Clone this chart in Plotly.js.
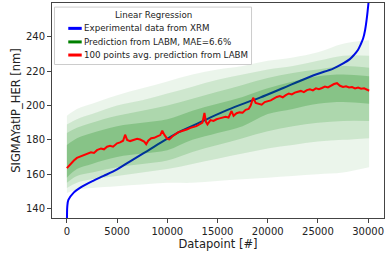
<!DOCTYPE html>
<html>
<head>
<meta charset="utf-8">
<script src="https://cdn.plot.ly/plotly-3.0.1.min.js"></script>
<style>html,body{margin:0;padding:0;background:#fff;}#chart{width:385px;height:253px;}</style>
</head>
<body>
<div id="chart"></div>
<script>
// Experimental data from XRM (sorted)
const blueX = [0, 15, 40, 150, 680, 1340, 2660, 3660, 5000, 6300, 8000, 9800, 11500, 13000, 14260, 16000, 18000, 19230, 21550, 23200, 24870, 26520, 27520, 28180, 28600, 29000, 29250, 29500, 29700, 29850, 29950, 30050, 30100];
const blueY = [120, 136, 141, 145, 149.3, 152.2, 156.3, 159, 162.8, 167.5, 173.5, 180, 185.5, 189.5, 193, 197.5, 202, 204.6, 210.2, 214.3, 218.2, 221.5, 224.5, 227, 229.5, 232.5, 235.5, 239, 244, 250, 255, 261, 268];

// 100 points avg. prediction from LABM
const redX = [0,150,400,700,1000,1300,1700,2000,2400,2700,3000,3400,3700,4000,4300,4600,5000,5300,5600,5800,6000,6300,6700,7000,7300,7700,7900,8100,8400,8700,9000,9300,9500,9700,10000,10200,10500,10800,11100,11400,11700,12000,12300,12600,12900,13200,13500,13700,13850,14000,14300,14600,14900,15200,15500,15800,16100,16400,16600,16900,17200,17500,17800,18100,18300,18550,18800,19100,19400,19700,20000,20300,20600,20900,21200,21500,21800,22100,22400,22700,23000,23300,23600,23900,24200,24500,24800,25100,25400,25700,26000,26300,26600,26900,27200,27500,27800,28100,28400,28700,29000,29300,29600,29900,30100];
const redY = [163.5,164.5,166,168,169.5,170.2,171,171.8,172.8,172.4,174,175,174.5,176,176.5,176,178,178.5,179.5,183,180,179.3,180,180.6,180.2,179,177.5,179.5,181,181.2,182,182.8,185.3,183,180.6,180.3,182,183.2,184.5,185,185.5,186.2,187,187.5,188,189,190,195.7,190.5,189,191.5,191,192,192.5,193,193.5,193,196.8,194,195.5,196,195.8,197.5,198,200,204.5,201.5,201,200.5,202,202.5,203,204,205,205.5,204.8,206,207,206.5,207.5,208,208.5,207.8,209,209.5,208.8,210,209.5,210.2,211,210.5,211.5,212.5,213,211.5,210.8,211.2,210.5,210.8,210,210.5,209.8,210,209.2,208.6];

// Prediction from LABM: spread of the individual predictions, from the faint outer
// envelope (L1) to the dense core (L4)
const bandX = [0, 1000, 2500, 5000, 7500, 10000, 12500, 15000, 17500, 20000, 22500, 25000, 27500, 30100];
const l1Hi = [194, 198, 201, 206, 210, 214, 218, 221, 223, 226, 228, 231, 236, 238];
const l1Lo = [149, 151, 152, 153, 154, 155, 155, 156, 157, 158, 159, 160, 161, 164];
const l2Hi = [189, 192, 195, 200, 203, 207, 211, 215, 218, 221, 223, 226, 229, 229];
const l2Lo = [152, 155, 157, 159, 161, 163, 166, 169, 172, 175, 177, 179, 180, 181];
const l3Hi = [184, 187, 190, 194, 197, 200, 204, 208, 212, 216, 219, 221, 223, 222];
const l3Lo = [155, 159, 161, 164, 166, 168, 173, 177, 181, 185, 188, 190, 191, 191];
const l4Hi = [177, 181, 184, 188, 190, 192, 197, 201, 205, 210, 214, 217, 218, 217];
const l4Lo = [158, 163, 166, 170, 172, 174, 180, 184, 188, 195, 198, 201, 202, 201];

const legendTitle = 'Linear Regression';
const legendLabels = ['Experimental data from XRM', 'Prediction from LABM, MAE=6.6%', '100 points avg. prediction from LABM'];
const legendColors = ['#0000ff', '#008000', '#ff0000'];
const xTicks = [0, 5000, 10000, 15000, 20000, 25000, 30000];
const yTicks = [140, 160, 180, 200, 220, 240];

function band(lo, hi, color) {
  return [
    {x: bandX, y: lo, type: 'scatter', mode: 'lines', line: {width: 0, shape: 'spline'}, showlegend: false, hoverinfo: 'skip'},
    {x: bandX, y: hi, type: 'scatter', mode: 'lines', line: {width: 0, shape: 'spline'}, fill: 'tonexty', fillcolor: color, showlegend: false, hoverinfo: 'skip'}
  ];
}

const traces = [
  {x: blueX, y: blueY, type: 'scatter', mode: 'lines', name: legendLabels[0], line: {color: legendColors[0], width: 2, shape: 'spline'}},
  ...band(l1Lo, l1Hi, 'rgba(0,128,0,0.08)'),
  ...band(l2Lo, l2Hi, 'rgba(0,128,0,0.12)'),
  ...band(l3Lo, l3Hi, 'rgba(0,128,0,0.16)'),
  ...band(l4Lo, l4Hi, 'rgba(0,128,0,0.22)'),
  {x: redX, y: redY, type: 'scatter', mode: 'lines', name: legendLabels[2], line: {color: legendColors[2], width: 2}}
];

// legend drawn in the upper-left corner of the axes (paper coordinates)
const lgFont = {family: 'DejaVu Sans', size: 8.7, color: '#222'};
const rowY = [0.882, 0.819, 0.758];
const shapes = [
  {type: 'rect', xref: 'paper', yref: 'paper', x0: 0.0075, x1: 0.601, y0: 0.714, y1: 0.981,
   fillcolor: 'rgba(255,255,255,0.8)', line: {color: '#cccccc', width: 1}, layer: 'above'}
].concat(legendLabels.map((t, i) => ({
  type: 'line', xref: 'paper', yref: 'paper', x0: 0.049, x1: 0.0895, y0: rowY[i], y1: rowY[i],
  line: {color: legendColors[i], width: 3}, layer: 'above'
})));
const annotations = [
  {xref: 'paper', yref: 'paper', x: 0.305, y: 0.944, text: legendTitle, showarrow: false, xanchor: 'center', yanchor: 'middle', font: lgFont}
].concat(legendLabels.map((t, i) => ({
  xref: 'paper', yref: 'paper', x: 0.091, y: rowY[i], text: t, showarrow: false, xanchor: 'left', yanchor: 'middle', font: lgFont
})));

const tickFont = {family: 'DejaVu Sans', size: 10, color: '#222'};
const titleFont = {family: 'DejaVu Sans', size: 11.5, color: '#222'};
const layout = {
  width: 385, height: 253,
  margin: {l: 52, r: 1, t: 3, b: 35},
  paper_bgcolor: '#fff', plot_bgcolor: '#fff',
  font: tickFont,
  showlegend: false,
  shapes: shapes,
  annotations: annotations,
  xaxis: {
    range: [-1480, 31580], tickvals: xTicks, ticktext: xTicks.map(String),
    showgrid: false, zeroline: false, showline: true, mirror: true, linecolor: '#444', linewidth: 1,
    ticks: 'outside', ticklen: 4, tickcolor: '#444', tickfont: tickFont,
    title: {text: 'Datapoint [#]', font: titleFont, standoff: 1}
  },
  yaxis: {
    range: [134.5, 259.7], tickvals: yTicks, ticktext: yTicks.map(String),
    showgrid: false, zeroline: false, showline: true, mirror: true, linecolor: '#444', linewidth: 1,
    ticks: 'outside', ticklen: 4, tickcolor: '#444', tickfont: tickFont,
    title: {text: 'SIGMAYatIP_HER [nm]', font: titleFont, standoff: 2}
  }
};

Plotly.newPlot('chart', traces, layout, {staticPlot: true, displayModeBar: false});
</script>
</body>
</html>
